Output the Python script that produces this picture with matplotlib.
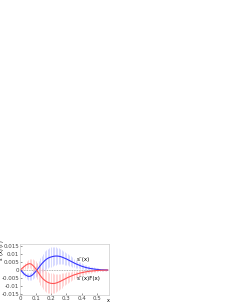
import numpy as np
import matplotlib
matplotlib.use('Agg')
from matplotlib import pyplot as plt

x = np.round(np.arange(0, 0.58, 0.01), 2)

s_minus = [0, -0.001, -0.002, -0.003, -0.0035, -0.004, -0.004, -0.0037, -0.003, -0.002,
           -0.001, 0.0002, 0.0015, 0.0028, 0.004, 0.005, 0.006, 0.0068, 0.0074, 0.0079,
           0.0082, 0.0085, 0.0087, 0.0088, 0.0088, 0.0087, 0.0085, 0.0082, 0.0078, 0.0074,
           0.007, 0.0065, 0.006, 0.0055, 0.005, 0.0045, 0.004, 0.0036, 0.0032, 0.0028,
           0.0024, 0.0021, 0.0018, 0.0015, 0.0013, 0.0011, 0.0009, 0.0008, 0.0006, 0.0005,
           0.0004, 0.0003, 0.0002, 0.00015, 0.0001, 0.0001, 0.00005, 0]
s_minus_err = [0.0005, 0.001, 0.0014, 0.0017, 0.0019, 0.002, 0.0022, 0.0025, 0.0028, 0.0032,
               0.0036, 0.004, 0.0044, 0.0048, 0.0051, 0.0054, 0.0057, 0.0059, 0.006, 0.006,
               0.006, 0.0059, 0.0057, 0.0055, 0.0052, 0.005, 0.0047, 0.0045, 0.0042, 0.004,
               0.0037, 0.0035, 0.0033, 0.0031, 0.0029, 0.0027, 0.0025, 0.0023, 0.0021, 0.002,
               0.0018, 0.0017, 0.0016, 0.0015, 0.0014, 0.0013, 0.0012, 0.0011, 0.001, 0.0009,
               0.0008, 0.0007, 0.0006, 0.0005, 0.0005, 0.0004, 0.0004, 0.0003]

sf = [0, 0.001, 0.0018, 0.0026, 0.0033, 0.0038, 0.004, 0.0038, 0.003, 0.002,
      0.0008, -0.0005, -0.002, -0.0035, -0.0048, -0.0058, -0.0066, -0.0073, -0.0078, -0.0082,
      -0.0084, -0.0085, -0.0085, -0.0083, -0.008, -0.0076, -0.0072, -0.0067, -0.0062, -0.0057,
      -0.0052, -0.0047, -0.0043, -0.0039, -0.0035, -0.0031, -0.0028, -0.0025, -0.0022, -0.0019,
      -0.0017, -0.0015, -0.0013, -0.0011, -0.001, -0.0008, -0.0007, -0.0006, -0.0005, -0.0004,
      -0.0003, -0.00025, -0.0002, -0.00015, -0.0001, -0.0001, -0.00005, 0]
sf_err = [0.0005, 0.001, 0.0015, 0.002, 0.0025, 0.0028, 0.003, 0.0033, 0.0037, 0.0042,
          0.0047, 0.0051, 0.0055, 0.0058, 0.006, 0.0062, 0.0064, 0.0065, 0.0066, 0.0066,
          0.0065, 0.0063, 0.006, 0.0057, 0.0054, 0.0051, 0.0048, 0.0045, 0.0042, 0.004,
          0.0037, 0.0034, 0.0031, 0.0029, 0.0027, 0.0025, 0.0023, 0.0021, 0.002, 0.0018,
          0.0017, 0.0015, 0.0014, 0.0013, 0.0012, 0.0011, 0.001, 0.0009, 0.0008, 0.0008,
          0.0007, 0.0006, 0.0006, 0.0005, 0.0005, 0.0004, 0.0004, 0.0003]

xticks = [0, 0.1, 0.2, 0.3, 0.4, 0.5]
yticks = [-0.015, -0.01, -0.005, 0, 0.005, 0.01, 0.015]
ytick_labels = ['-0.015', '-0.01', '-0.005', '0', '0.005', '0.01', '0.015']

s_minus = np.array(s_minus)
sf = np.array(sf)
s_minus_err = np.array(s_minus_err)
sf_err = np.array(sf_err)

fig = plt.figure(figsize=(2.4, 3.02), dpi=100)
ax = fig.add_axes([0.085, 0.023, 0.37, 0.168])

ax.axhline(0, color='#999999', lw=0.6, ls=(0, (1, 1)))
ax.vlines(x, s_minus - s_minus_err, s_minus + s_minus_err, color='#b8bdff', lw=0.4)
ax.vlines(x, sf - sf_err, sf + sf_err, color='#ffb4b4', lw=0.4)
ax.plot(x, s_minus, color='#3333ff', lw=0.8)
ax.plot(x, sf, color='#ff5555', lw=0.8)

ax.text(0.37, 0.0055, 's⁻(x)', fontsize=4)
ax.text(0.37, -0.0065, 's⁻(x)F(x)', fontsize=4)

ax.set_xlim(0, 0.58)
ax.set_ylim(-0.0158, 0.0162)
ax.set_xticks(xticks)
ax.set_xticklabels([str(t) for t in xticks])
ax.set_yticks(yticks)
ax.set_yticklabels(ytick_labels)
ax.tick_params(labelsize=4, length=1.5, width=0.4, pad=1, direction='in', colors='#444444')
for sp in ax.spines.values():
    sp.set_color('#cccccc')
    sp.set_linewidth(0.5)
ax.set_ylabel('s⁻(x) (F)', fontsize=3.5, labelpad=0)
ax.yaxis.set_label_coords(-0.19, 0.88)
ax.set_xlabel('x', fontsize=3.5, labelpad=0)
ax.xaxis.set_label_coords(0.99, -0.06)

fig.savefig('out.png', dpi=100)
